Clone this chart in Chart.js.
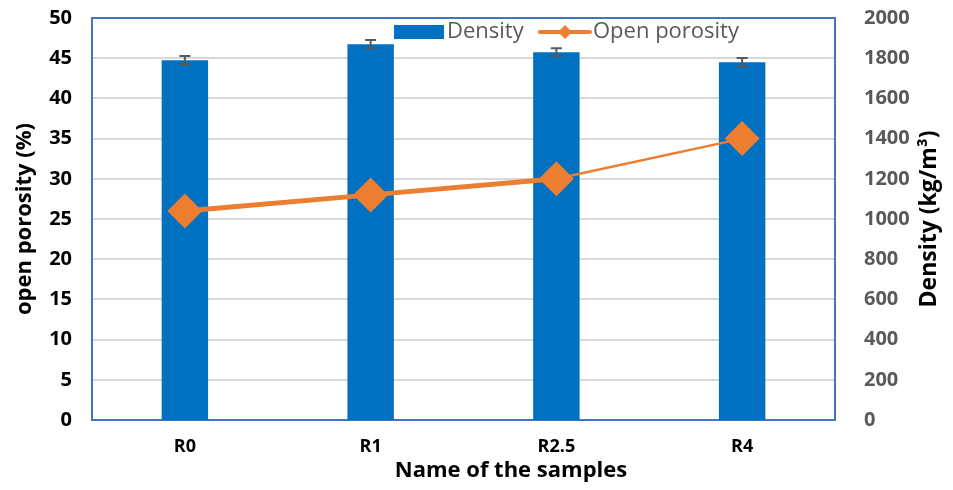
<!DOCTYPE html>
<html>
<head>
<meta charset="utf-8">
<script src="https://cdn.jsdelivr.net/npm/chart.js@4.4.1/dist/chart.umd.min.js"></script>
<style>
  html, body { margin: 0; padding: 0; background: #fff; }
  #wrap { width: 953px; height: 490px; position: relative; }
</style>
</head>
<body>
<div id="wrap"><canvas id="chart"></canvas></div>
<script>
const categories = ['R0', 'R1', 'R2.5', 'R4'];
const density = [1790, 1870, 1830, 1780];
const densityErr = [21, 21, 20, 21];
const porosity = [26, 28, 30, 35];
const porosityTicks = [0, 50, 5];
const densityTicks = [0, 2000, 200];
const xTitle = 'Name of the samples';
const densityTitle = 'Density (kg/m\u00B3)';

const blue = '#0070C0';
const orange = '#ED7D31';
const frameBlue = '#4472C4';
const grey = '#595959';
const FONT = '"Open Sans"';

// frame round the plot area
const framePlugin = {
    id: 'frame',
    beforeDatasetsDraw(chart) {
        const a = chart.chartArea;
        const ctx = chart.ctx;
        ctx.save();
        ctx.strokeStyle = frameBlue;
        ctx.lineWidth = 2;
        ctx.strokeRect(a.left, a.top, a.right - a.left, a.bottom - a.top);
        ctx.restore();
    }
};

// error bars on the density bars
const errorBarPlugin = {
    id: 'errorBars',
    afterDatasetDraw(chart, args) {
        if (args.index !== 1) return;
        const ctx = chart.ctx;
        const y1 = chart.scales.y1;
        const meta = chart.getDatasetMeta(1);
        ctx.save();
        ctx.strokeStyle = grey;
        ctx.lineWidth = 2;
        meta.data.forEach((bar, i) => {
            const top = y1.getPixelForValue(density[i] + densityErr[i]);
            const bottom = y1.getPixelForValue(density[i] - densityErr[i]);
            ctx.beginPath();
            ctx.moveTo(bar.x, top); ctx.lineTo(bar.x, bottom);
            ctx.moveTo(bar.x - 5.5, top); ctx.lineTo(bar.x + 5.5, top);
            ctx.moveTo(bar.x - 5.5, bottom); ctx.lineTo(bar.x + 5.5, bottom);
            ctx.stroke();
        });
        ctx.restore();
    }
};

// x title sits right of centre, right title reads bottom to top
const titlesPlugin = {
    id: 'titles',
    afterDraw(chart) {
        const a = chart.chartArea;
        const ctx = chart.ctx;
        ctx.save();
        ctx.fillStyle = '#000';
        ctx.textAlign = 'center';
        ctx.textBaseline = 'middle';
        ctx.font = 'bold 22px ' + FONT;
        ctx.fillText(xTitle, 511, 471);
        ctx.translate(929, (a.top + a.bottom) / 2);
        ctx.rotate(-Math.PI / 2);
        ctx.font = 'bold 23px ' + FONT;
        ctx.fillText(densityTitle, 0, 0);
        ctx.restore();
    }
};

// legend drawn inside the plot area, like the original
const legendPlugin = {
    id: 'insideLegend',
    afterDraw(chart) {
        const ctx = chart.ctx;
        ctx.save();
        ctx.font = '22px ' + FONT;
        ctx.textBaseline = 'middle';
        ctx.textAlign = 'left';
        const y = 32;
        ctx.fillStyle = blue;
        ctx.fillRect(394, 25, 50, 14);
        ctx.fillStyle = grey;
        ctx.fillText(chart.data.datasets[1].label, 447, y);
        ctx.strokeStyle = orange;
        ctx.lineWidth = 4;
        ctx.lineCap = 'round';
        ctx.beginPath();
        ctx.moveTo(540, y); ctx.lineTo(590, y);
        ctx.stroke();
        ctx.fillStyle = orange;
        ctx.beginPath();
        ctx.moveTo(565, y - 7); ctx.lineTo(572, y); ctx.lineTo(565, y + 7); ctx.lineTo(558, y);
        ctx.closePath();
        ctx.fill();
        ctx.fillStyle = grey;
        ctx.fillText(chart.data.datasets[0].label, 593, y);
        ctx.restore();
    }
};

new Chart(document.getElementById('chart'), {
    type: 'bar',
    data: {
        labels: categories,
        datasets: [
            {
                type: 'line',
                label: 'Open porosity',
                data: porosity,
                yAxisID: 'y',
                borderColor: orange,
                backgroundColor: orange,
                pointStyle: 'rectRot',
                pointRadius: 17.5,
                pointHoverRadius: 17.5,
                pointBorderWidth: 0,
                segment: {
                    borderWidth: ctx => ctx.p0DataIndex >= 2 ? 2.5 : 5
                },
                order: 1
            },
            {
                type: 'bar',
                label: 'Density',
                data: density,
                yAxisID: 'y1',
                backgroundColor: blue,
                categoryPercentage: 1,
                barPercentage: 0.25,
                order: 2
            }
        ]
    },
    options: {
        responsive: true,
        maintainAspectRatio: false,
        animation: false,
        layout: { padding: { top: 18, left: 0, right: 0, bottom: 0 } },
        plugins: {
            legend: { display: false },
            tooltip: { enabled: false }
        },
        scales: {
            x: {
                grid: { display: false },
                border: { display: false },
                ticks: { color: '#000', font: { family: FONT, weight: 'bold', size: 18 }, padding: 8 },
                afterFit(scale) { scale.height = 70; }
            },
            y: {
                position: 'left',
                min: porosityTicks[0],
                max: porosityTicks[1],
                ticks: { stepSize: porosityTicks[2], color: '#000', font: { family: FONT, weight: 'bold', size: 20 }, padding: 20 },
                grid: { color: '#d9d9d9', lineWidth: 2, drawTicks: false },
                border: { display: false },
                title: {
                    display: true,
                    text: 'open porosity (%)',
                    color: '#000',
                    font: { family: FONT, weight: 'bold', size: 22 },
                    padding: { top: 12, bottom: 0 }
                },
                afterFit(scale) {
                    scale.width = 92;
                    scale.paddingTop = 0;
                    scale.paddingBottom = 0;
                }
            },
            y1: {
                position: 'right',
                min: densityTicks[0],
                max: densityTicks[1],
                ticks: {
                    stepSize: densityTicks[2],
                    color: grey,
                    font: { family: FONT, weight: 'bold', size: 20 },
                    padding: 21,
                    callback: v => String(v)
                },
                grid: { display: false },
                border: { display: false },
                afterFit(scale) {
                    scale.width = 118;
                    scale.paddingTop = 0;
                    scale.paddingBottom = 0;
                }
            }
        }
    },
    plugins: [framePlugin, errorBarPlugin, titlesPlugin, legendPlugin]
});
</script>
</body>
</html>
